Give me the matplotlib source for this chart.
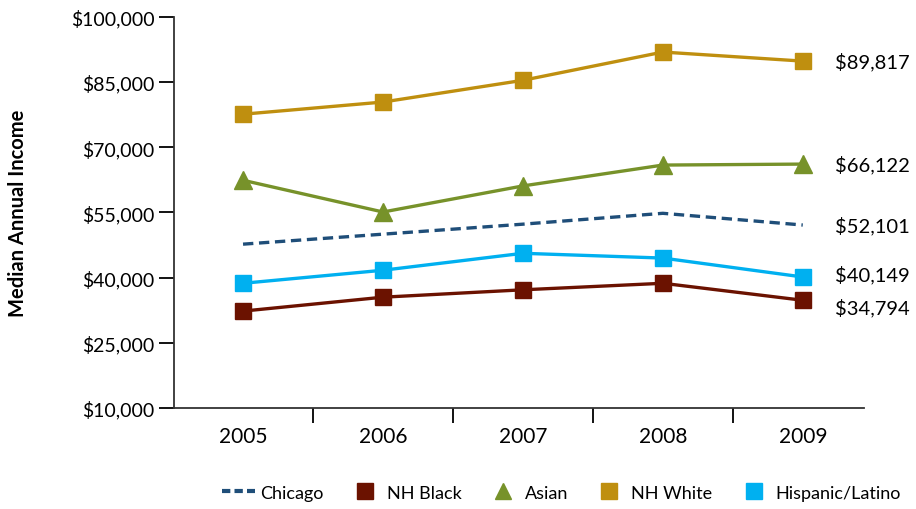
import matplotlib.pyplot as plt
from matplotlib.lines import Line2D

plt.rcParams['font.family'] = ['Lato', 'DejaVu Sans']

years = ['2005', '2006', '2007', '2008', '2009']
chicago = [47700, 50000, 52300, 54800, 52101]
nh_black = [32300, 35500, 37200, 38700, 34794]
asian = [62400, 55100, 61100, 65900, 66122]
nh_white = [77600, 80400, 85400, 91900, 89817]
hispanic = [38700, 41700, 45600, 44500, 40149]

col_chicago = '#1f4e79'
col_black = '#6b1200'
col_asian = '#77922a'
col_white = '#bf8f0f'
col_hisp = '#00b0f0'

fig = plt.figure(figsize=(9.16, 5.10), dpi=100)
ax = fig.add_axes([0.19, 0.198, 0.753, 0.767])

x = list(range(len(years)))
lw = 2.4
ax.plot(x, chicago, color=col_chicago, lw=lw, ls=(0, (3.1, 1.7)))
ax.plot(x, nh_black, color=col_black, lw=lw, marker='s', ms=12)
ax.plot(x, asian, color=col_asian, lw=lw, marker='^', ms=13)
ax.plot(x, nh_white, color=col_white, lw=lw, marker='s', ms=12)
ax.plot(x, hispanic, color=col_hisp, lw=lw, marker='s', ms=12)

# end-of-line value labels
offsets = [(chicago, 0), (nh_black, -5), (asian, 0), (nh_white, 0), (hispanic, 2)]
for series, dy in offsets:
    ax.annotate('${:,}'.format(series[-1]), xy=(x[-1], series[-1]),
                xytext=(23, dy), textcoords='offset points',
                va='center', ha='left', fontsize=14.5, annotation_clip=False)

ax.set_xlim(-0.493, 4.436)
ax.set_ylim(10000, 100000)
ax.set_yticks(range(10000, 100001, 15000))
ax.set_yticklabels(['${:,}'.format(v) for v in range(10000, 100001, 15000)], fontsize=14)
ax.set_xticks(x)
ax.set_xticklabels(years, fontsize=15)
ax.set_xticks([0.5, 1.5, 2.5, 3.5], minor=True)
ax.tick_params(axis='x', which='major', length=0, pad=13)
ax.tick_params(axis='x', which='minor', length=11, width=1.3, direction='out')
ax.tick_params(axis='y', length=11, width=1.3, direction='out', pad=3)

for s in ['top', 'right']:
    ax.spines[s].set_visible(False)
for s in ['left', 'bottom']:
    ax.spines[s].set_linewidth(1.3)
    ax.spines[s].set_color('#333333')

ax.set_ylabel('Median Annual Income', fontsize=14.5, fontweight='bold')
ax.yaxis.set_label_coords(-0.212, 0.5)

handles = [
    Line2D([], [], color=col_chicago, lw=3, ls=(0, (2, 1))),
    Line2D([], [], color=col_black, ls='none', marker='s', ms=11),
    Line2D([], [], color=col_asian, ls='none', marker='^', ms=12),
    Line2D([], [], color=col_white, ls='none', marker='s', ms=11),
    Line2D([], [], color=col_hisp, ls='none', marker='s', ms=11),
]
labels = ['Chicago', 'NH Black', 'Asian', 'NH White', 'Hispanic/Latino']
fig.legend(handles, labels, loc='center', bbox_to_anchor=(0.613, 0.032), ncol=5,
           frameon=False, fontsize=13, handlelength=1.8, handletextpad=0.3,
           columnspacing=1.4)

fig.savefig('out.png', dpi=100)
